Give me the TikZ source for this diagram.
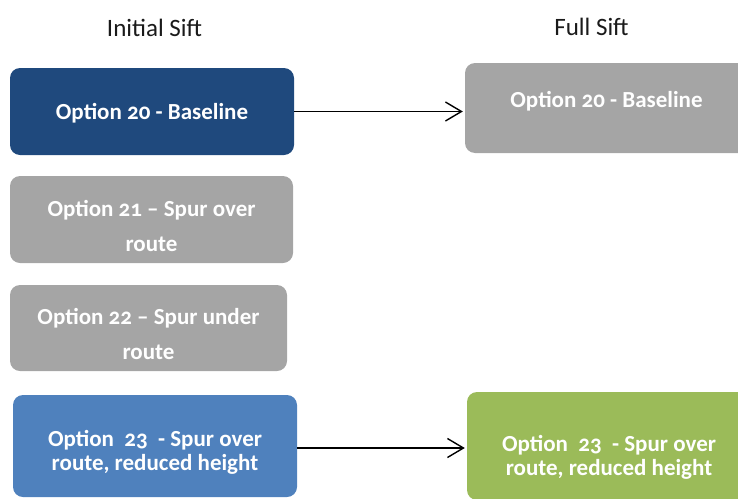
\documentclass[tikz,border=0pt]{standalone}
\usepackage{fontspec}
\setmainfont{Carlito}[Numbers=OldStyle]
\usetikzlibrary{arrows.meta}
\definecolor{boxnavy}{HTML}{1F497D}
\definecolor{boxblue}{HTML}{4F81BD}
\definecolor{boxgrey}{HTML}{A5A5A5}
\definecolor{boxgreen}{HTML}{9BBB59}
\definecolor{titlegrey}{HTML}{1A1A1A}
\begin{document}
\begin{tikzpicture}[x=1pt,y=-1pt,
  optbox/.style={rounded corners=10pt, inner sep=0pt},
  optlabel/.style={inner sep=0pt, text=white, align=center,
    font=\fontsize{23}{24}\selectfont\bfseries},
  widelines/.style={font=\fontsize{23}{35}\selectfont\bfseries},
  coltitle/.style={anchor=base, text=titlegrey, font=\fontsize{25}{30}\selectfont},
  flow/.style={line width=1.4pt, -{Straight Barb[length=16pt,width=19pt]}, shorten >=2pt}]
\useasboundingbox (0,0) rectangle (738,498);
\clip (0,0) rectangle (738,498);

% column headings
\node[coltitle] (hinit) at (154.5,36) {Initial Sift};
\node[coltitle] (hfull) at (591.5,35) {Full Sift};

% initial sift options
\node[optbox, fill=boxnavy, minimum width=284pt, minimum height=87pt]
  (b20) at (152,111.5) {};
\node[optlabel] (t20) at ([yshift=-1.5pt]b20.center) {Option 20 - Baseline};

\node[optbox, fill=boxgrey, minimum width=283pt, minimum height=87pt]
  (b21) at (151.5,219.5) {};
\node[optlabel, widelines] (t21) at ([yshift=-6pt]b21.center)
  {Option 21 -- Spur over\\route};

\node[optbox, fill=boxgrey, minimum width=277pt, minimum height=86pt]
  (b22) at (148.5,328) {};
\node[optlabel, widelines] (t22) at ([yshift=-5.5pt]b22.center)
  {Option 22 -- Spur under\\route};

\node[optbox, fill=boxblue, minimum width=284pt, minimum height=102pt]
  (b23) at (155,446) {};
\node[optlabel] (t23) at ([yshift=-6pt]b23.center)
  {Option\ \ 23\ \ - Spur over\\route, reduced height};

% full sift options
\node[optbox, fill=boxgrey, minimum width=283pt, minimum height=90pt]
  (f20) at (606.5,108) {};
\node[optlabel] (u20) at ([yshift=7pt]f20.center) {Option 20 - Baseline};

\node[optbox, fill=boxgreen, minimum width=284pt, minimum height=108pt]
  (f23) at (609,446) {};
\node[optlabel] (u23) at ([yshift=-11pt]f23.center)
  {Option\ \ 23\ \ - Spur over\\route, reduced height};

% carried-forward options
\draw[flow] (b20.east) -- (b20.east -| f20.west);
\draw[flow] ([yshift=-2pt]b23.east) -- ([yshift=-2pt]b23.east -| f23.west);
\end{tikzpicture}
\end{document}
